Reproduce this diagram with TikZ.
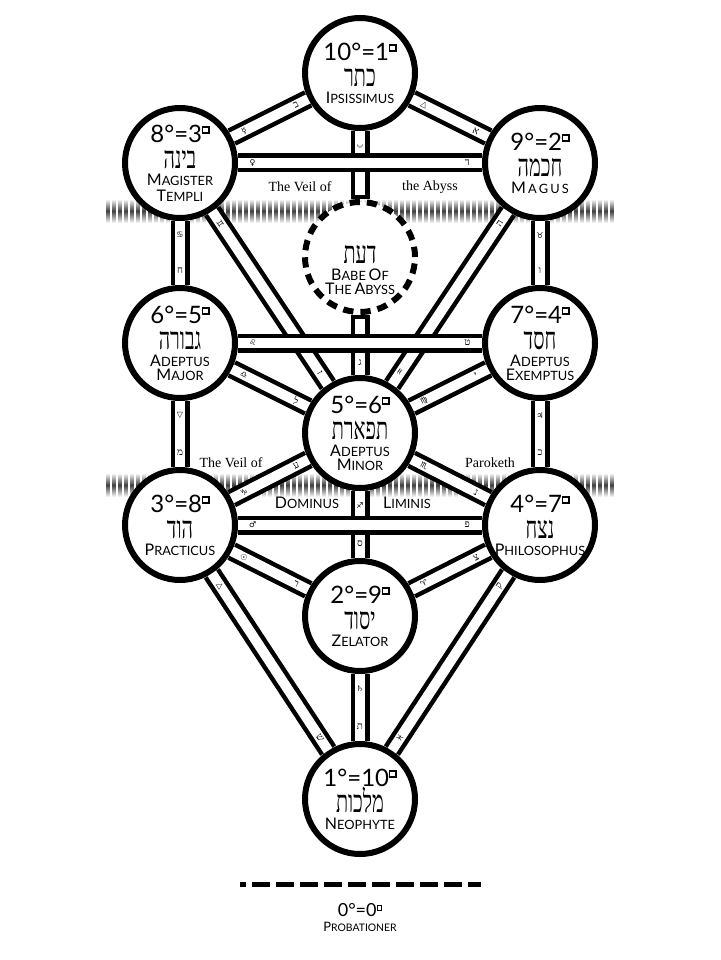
\documentclass[tikz,border=0pt]{standalone}
\usepackage{graphicx}
\usepackage{fontspec}
\setmainfont{Liberation Serif}
\newfontfamily\titlefont{Lato}
\newfontfamily\hebfont[Script=Hebrew]{Liberation Serif}
\newfontfamily\glyphfont{DejaVu Sans}
\TeXXeTstate=1
\newcommand\tightlines{\lineskiplimit=-100pt\relax}
\newcommand\sqd{\raisebox{.41em}{\setlength\fboxsep{0pt}\setlength\fboxrule{.055em}\fbox{\rule{0pt}{.2em}\rule{.2em}{0pt}}}}
\newcommand\grade[2][24]{{\titlefont\fontsize{#1}{#1}\selectfont #2}}
\newcommand\heb[1]{{\hebfont\fontsize{31}{31}\selectfont\scalebox{.64}[1]{\beginR #1\endR}}}
\newcommand\sct[2]{{\titlefont\fontsize{16}{16}\selectfont #1\fontsize{12.8}{16}\selectfont #2}}
\newcommand\hl[1]{{\hebfont\fontsize{10}{10}\selectfont #1}}
\newcommand\sy[1]{{\glyphfont\fontsize{8}{8}\selectfont #1}}
\begin{document}
\begin{tikzpicture}[x=1pt, y=-1pt,
    seph/.style={circle, draw, line width=6pt, fill=white, minimum size=110pt, inner sep=-20pt, align=center,
      font={\titlefont\fontsize{11}{16}\selectfont\tightlines}},
    abyss/.style={seph, dash pattern=on 10.3pt off 7pt},
    chanout/.style={line width=19pt},
    chanin/.style={line width=10pt, white},
    lbl/.style={inner sep=0pt, text=black},
    veil/.style={inner sep=0pt, font=\fontsize{14}{14}\selectfont}]
  \useasboundingbox (0,0) rectangle (720,960);
  % veils
  \foreach \vy in {199,473} \foreach \i in {0,...,84}
    \shade[top color=white, bottom color=white, middle color=black!75] ({106+6*\i},\vy) rectangle +(3.4,24);
  % sephiroth
  \node[seph] (kether) at (360,73) {\grade{10°=1\sqd}\\[10pt]\heb{כתר}\\[1pt]\sct{I}{PSISSIMUS}};
  \node[seph] (binah) at (180,163) {\grade{8°=3\sqd}\\[10pt]\heb{בינה}\\[1pt]\sct{M}{AGISTER}\\\sct{T}{EMPLI}};
  \node[seph] (chokmah) at (540,163) {\grade{9°=2\sqd}\\[10pt]\heb{חכמה}\\[1pt]\sct{M}{\,A\,G\,U\,S}};
  \node[abyss] (daath) at (360,257) {\grade{\phantom{0}}\\[10pt]\heb{דעת}\\[1pt]\sct{B}{ABE} \sct{O}{F}\\[-2pt]\sct{T}{HE} \sct{A}{BYSS}};
  \node[seph] (geburah) at (180,343) {\grade{6°=5\sqd}\\[10pt]\heb{גבורה}\\[1pt]\sct{A}{DEPTUS}\\[-2pt]\sct{M}{AJOR}};
  \node[seph] (chesed) at (540,343) {\grade{7°=4\sqd}\\[10pt]\heb{חסד}\\[1pt]\sct{A}{DEPTUS}\\[-2pt]\sct{E}{XEMPTUS}};
  \node[seph] (tiphareth) at (360,433) {\grade{5°=6\sqd}\\[10pt]\heb{תפארת}\\[1pt]\sct{A}{DEPTUS}\\[-2pt]\sct{M}{INOR}};
  \node[seph] (hod) at (180,525) {\grade{3°=8\sqd}\\[10pt]\heb{הוד}\\[1pt]\sct{P}{RACTICUS}};
  \node[seph] (netzach) at (540,525) {\grade{4°=7\sqd}\\[10pt]\heb{נצח}\\[1pt]\sct{P}{HILOSOPHUS}};
  \node[seph] (yesod) at (360,616) {\grade{2°=9\sqd}\\[10pt]\heb{יסוד}\\[1pt]\sct{Z}{ELATOR}};
  \node[seph] (malkuth) at (360,799) {\grade{1°=10\sqd}\\[10pt]\heb{מלכות}\\[1pt]\sct{N}{EOPHYTE}};
  % paths
  \foreach \a/\b/\p/\u/\v in {kether/binah/.16/\hl{ב}/\sy{☿}, kether/chokmah/.16/\sy{△}/\hl{א},
      binah/tiphareth/.07/\sy{♊}/\hl{ז}, chokmah/tiphareth/.07/\hl{ה}/\sy{♒},
      geburah/tiphareth/.16/\sy{♎}/\hl{ל}, chesed/tiphareth/.16/\hl{י}/\sy{♍},
      tiphareth/hod/.16/\hl{ע}/\sy{♑}, tiphareth/netzach/.16/\sy{♏}/\hl{נ},
      hod/yesod/.16/\sy{☉}/\hl{ר}, netzach/yesod/.16/\hl{צ}/\sy{♈},
      hod/malkuth/.07/\sy{△}/\hl{ש}, netzach/malkuth/.07/\hl{ק}/\sy{♓}} {
    \draw[chanout] (\a) -- (\b);
    \draw[chanin] (\a) -- node[lbl, sloped, pos=\p] (\a-\b-1) {\u} node[lbl, sloped, pos=1-\p] (\a-\b-2) {\v} (\b);
  }
  \foreach \a/\b/\u/\v in {binah/geburah/\sy{♋}/\hl{ח}, chokmah/chesed/\sy{♉}/\hl{ו},
      geburah/hod/\sy{▽}/\hl{מ}, chesed/netzach/\sy{♃}/\hl{כ},
      tiphareth/yesod/\sy{♐}/\hl{ס}, yesod/malkuth/\sy{♄}/\hl{ת}} {
    \draw[chanout] (\a) -- (\b);
    \draw[chanin] (\a) -- node[lbl, pos=.22] (\a-\b-1) {\u} node[lbl, pos=.78] (\a-\b-2) {\v} (\b);
  }
  \draw[chanout] (kether) -- (daath) (daath) -- (tiphareth);
  \draw[chanin, shorten >=4pt] (kether) -- node[lbl, pos=.2, rotate=-90] (kether-daath) {\sy{☽}} (daath);
  \draw[chanin, shorten <=4pt] (daath) -- node[lbl, pos=.8] (daath-tiphareth) {\hl{ג}} (tiphareth);
  \foreach \a/\b/\u/\v in {binah/chokmah/\sy{♀}/\hl{ד}, geburah/chesed/\sy{♌}/\hl{ט}, hod/netzach/\sy{♂}/\hl{פ}} {
    \draw[chanout] (\a) -- (\b);
    \draw[chanin] (\a) -- node[lbl, pos=.06] (\a-\b-1) {\u} node[lbl, pos=.94] (\a-\b-2) {\v} (\b);
  }
  % veil texts
  \node[veil] (abyss1) at (300,187) {The Veil of};
  \node[veil] (abyss2) at (430,187) {the Abyss};
  \node[veil] (paroketh1) at (231,463) {The Veil of};
  \node[veil] (paroketh2) at (490,463) {Paroketh};
  \node[inner sep=0pt] (dominus) at (307,503) {\sct{D}{OMINUS}};
  \node[inner sep=0pt] (liminis) at (407,503) {\sct{L}{IMINIS}};
  % probationer
  \coordinate (probL) at (240,884.5); \coordinate (probR) at (481,884.5);
  \draw[line width=5pt, dash pattern=on 18pt off 6pt, dash phase=12pt] (probL) -- (probR);
  \node[align=center, inner sep=0pt, font={\titlefont\fontsize{10}{15}\selectfont\tightlines}] (probationer) at (360,918)
    {\grade[18]{0°=0\sqd}\\{\titlefont\fontsize{13}{15}\selectfont P\fontsize{10.4}{15}\selectfont ROBATIONER}};
\end{tikzpicture}
\end{document}
